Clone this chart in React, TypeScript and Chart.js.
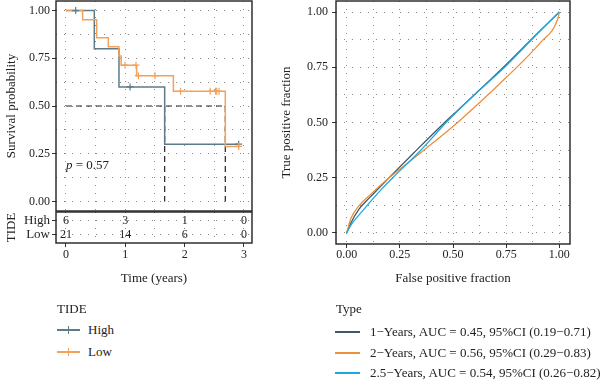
import React, { useEffect, useRef } from 'react';
import { Chart, registerables } from 'chart.js';

Chart.register(...registerables);

// ---------- Kaplan-Meier data ----------
const highTimes = [0, 0.477, 0.893, 1.663, 2.91];
const highSurv = [1, 0.8, 0.6, 0.3, 0.3];
const highCensorTimes = [0.163, 1.08, 2.91];
const highCensorSurv = [1, 0.6, 0.3];
const lowTimes = [0, 0.28, 0.517, 0.713, 0.89, 0.93, 1.19, 1.81, 2.685, 2.91];
const lowSurv = [1, 0.952, 0.857, 0.81, 0.762, 0.714, 0.659, 0.577, 0.288, 0.288];
const lowCensorTimes = [0.995, 1.18, 1.22, 1.5, 1.93, 2.43, 2.52, 2.54, 2.58, 2.91];
const lowCensorSurv = [0.714, 0.714, 0.659, 0.659, 0.577, 0.577, 0.577, 0.577, 0.577, 0.288];
const medianTimes = [1.663, 2.685];
const pValueLabel = '0.57';
const pValuePos = [0, 0.19];
const groups = ['High', 'Low'];
const riskTimes = [0, 1, 2, 3];
const riskHigh = [6, 3, 1, 0];
const riskLow = [21, 14, 6, 0];
const kmTimeTicks = [0, 0.5, 1, 1.5, 2, 2.5, 3];
const probTicks = [0, 0.125, 0.25, 0.375, 0.5, 0.625, 0.75, 0.875, 1];

// ---------- ROC data ----------
const roc1Fpr = [0, 0.02, 0.06, 0.108, 0.194, 0.313, 0.45, 0.5, 0.742, 0.893, 1];
const roc1Tpr = [0, 0.045, 0.11, 0.16, 0.245, 0.36, 0.49, 0.535, 0.755, 0.9, 1];
const roc2Fpr = [0, 0.02, 0.06, 0.108, 0.194, 0.357, 0.527, 0.746, 0.914, 0.992, 1];
const roc2Tpr = [0, 0.065, 0.125, 0.17, 0.245, 0.37, 0.505, 0.7, 0.865, 0.967, 1];
const roc3Fpr = [0, 0.02, 0.075, 0.161, 0.217, 0.344, 0.468, 0.6, 0.75, 0.9, 1];
const roc3Tpr = [0, 0.035, 0.1, 0.195, 0.25, 0.37, 0.5, 0.625, 0.757, 0.905, 1];
const rocLabels = [
  '1\u2212Years, AUC = 0.45, 95%CI (0.19\u22120.71)',
  '2\u2212Years, AUC = 0.56, 95%CI (0.29\u22120.83)',
  '2.5\u2212Years, AUC = 0.54, 95%CI (0.26\u22120.82)',
];

// ---------- styles ----------
const FONT = '"Liberation Serif", "Times New Roman", serif';
const TEXT = '#222';
const HIGH_C = '#5F7B89';
const LOW_C = '#F3A15B';
const ROC_C = ['#3E5867', '#EE8F3C', '#1FA7E0'];
const GRID_C = '#8a8a8a';

const pts = (xs: number[], ys: number[]) => xs.map((x, i) => ({ x, y: ys[i] }));
const isQuarter = (v: number) => Math.abs(v * 4 - Math.round(v * 4)) < 1e-6;
const isInt = (v: number) => Math.abs(v - Math.round(v)) < 1e-6;

const gridOpts = (majorFn: ((v: number) => boolean) | null, drawTicks: boolean) => ({
  color: GRID_C,
  lineWidth: 1,
  drawTicks,
  tickLength: 4,
  tickWidth: 1,
  tickBorderDash: [],
  tickColor: (c: any) => (majorFn && c.tick && majorFn(c.tick.value) ? '#333' : 'rgba(0,0,0,0)'),
});
const borderOpts = { display: false, dash: [1, 7] };

const fixW = (w: number) => (s: any) => {
  s.width = w;
  s.paddingTop = 0;
  s.paddingBottom = 0;
  s.paddingLeft = 0;
  s.paddingRight = 0;
};
const fixH = (h: number) => (s: any) => {
  s.height = h;
  s.paddingTop = 0;
  s.paddingBottom = 0;
  s.paddingLeft = 0;
  s.paddingRight = 0;
};

const framePlugin = {
  id: 'frame',
  afterDatasetsDraw(chart: any) {
    const { ctx, chartArea: a } = chart;
    ctx.save();
    ctx.strokeStyle = '#222';
    ctx.lineWidth = 1.4;
    ctx.strokeRect(a.left, a.top, a.right - a.left, a.bottom - a.top);
    ctx.restore();
  },
};

function ChartBox({ left, top, width, height, make }: any) {
  const ref = useRef<HTMLCanvasElement>(null);
  useEffect(() => {
    const chart = new Chart(ref.current as HTMLCanvasElement, make());
    return () => chart.destroy();
  }, []);
  return (
    <canvas
      ref={ref}
      width={width}
      height={height}
      style={{ position: 'absolute', left, top, width, height, display: 'block' }}
    />
  );
}

const lineDs = (data: any, color: string, width: number, extra: any = {}) => ({
  data,
  showLine: true,
  borderColor: color,
  backgroundColor: color,
  borderWidth: width,
  pointRadius: 0,
  fill: false,
  ...extra,
});

const censorDs = (data: any, color: string, order: number) => ({
  data,
  showLine: false,
  pointStyle: 'cross',
  pointRadius: 3.5,
  borderColor: color,
  backgroundColor: color,
  pointBorderWidth: 1.2,
  borderWidth: 1.2,
  order,
});

function makeKM() {
  const kmAnnot = {
    id: 'kmAnnot',
    afterDatasetsDraw(chart: any) {
      const { ctx, scales } = chart;
      const px = scales.x.getPixelForValue(pValuePos[0]);
      const py = scales.y.getPixelForValue(pValuePos[1]);
      ctx.save();
      ctx.fillStyle = TEXT;
      ctx.textBaseline = 'middle';
      ctx.textAlign = 'left';
      ctx.font = `italic 13px ${FONT}`;
      ctx.fillText('p', px, py);
      const w = ctx.measureText('p').width;
      ctx.font = `13px ${FONT}`;
      ctx.fillText(` = ${pValueLabel}`, px + w, py);
      ctx.restore();
    },
  };
  return {
    type: 'scatter',
    data: {
      datasets: [
        censorDs(pts(lowCensorTimes, lowCensorSurv), LOW_C, 0),
        censorDs(pts(highCensorTimes, highCensorSurv), HIGH_C, 1),
        lineDs(pts(lowTimes, lowSurv), LOW_C, 1.5, { stepped: true, order: 2 }),
        lineDs(pts(highTimes, highSurv), HIGH_C, 1.5, { stepped: true, order: 3 }),
        lineDs([{ x: 0, y: 0.5 }, { x: medianTimes[1], y: 0.5 }], '#222', 1.2, { borderDash: [6, 4], order: 4 }),
        lineDs([{ x: medianTimes[0], y: 0.5 }, { x: medianTimes[0], y: 0 }], '#222', 1.2, { borderDash: [6, 4], order: 5 }),
        lineDs([{ x: medianTimes[1], y: 0.5 }, { x: medianTimes[1], y: 0 }], '#222', 1.2, { borderDash: [6, 4], order: 6 }),
      ],
    },
    options: {
      responsive: false,
      animation: false,
      events: [],
      layout: { autoPadding: false, padding: { left: 0, right: 48, top: 1, bottom: 2 } },
      plugins: { legend: { display: false }, tooltip: { enabled: false } },
      scales: {
        x: {
          type: 'linear',
          min: -0.1685,
          max: 3.135,
          afterBuildTicks: (s: any) => { s.ticks = kmTimeTicks.map((v) => ({ value: v })); },
          afterFit: fixH(0),
          ticks: { display: false },
          grid: gridOpts(null, false),
          border: borderOpts,
        },
        y: {
          type: 'linear',
          min: -0.05,
          max: 1.05,
          afterBuildTicks: (s: any) => { s.ticks = probTicks.map((v) => ({ value: v })); },
          afterFit: fixW(56),
          ticks: {
            autoSkip: false,
            padding: 2,
            color: TEXT,
            font: { family: FONT, size: 12 },
            callback: (v: any) => (isQuarter(v) ? Number(v).toFixed(2) : ''),
          },
          grid: gridOpts(isQuarter, true),
          border: borderOpts,
          title: {
            display: true,
            text: 'Survival probability',
            color: TEXT,
            font: { family: FONT, size: 13 },
            padding: { top: 4.2, bottom: 0 },
          },
        },
      },
    },
    plugins: [kmAnnot, framePlugin],
  };
}

function makeRisk() {
  const riskText = {
    id: 'riskText',
    afterDatasetsDraw(chart: any) {
      const { ctx, scales } = chart;
      ctx.save();
      ctx.fillStyle = TEXT;
      ctx.textBaseline = 'middle';
      ctx.textAlign = 'center';
      ctx.font = `12px ${FONT}`;
      riskTimes.forEach((t, i) => {
        const px = scales.x.getPixelForValue(t);
        ctx.fillText(String(riskHigh[i]), px, scales.y.getPixelForValue(2));
        ctx.fillText(String(riskLow[i]), px, scales.y.getPixelForValue(1));
      });
      ctx.restore();
    },
  };
  return {
    type: 'scatter',
    data: { datasets: [{ data: [], showLine: false, pointRadius: 0 }] },
    options: {
      responsive: false,
      animation: false,
      events: [],
      layout: { autoPadding: false, padding: { left: 0, right: 48, top: 1, bottom: 0 } },
      plugins: { legend: { display: false }, tooltip: { enabled: false } },
      scales: {
        x: {
          type: 'linear',
          min: -0.1685,
          max: 3.135,
          afterBuildTicks: (s: any) => { s.ticks = kmTimeTicks.map((v) => ({ value: v })); },
          afterFit: fixH(47),
          ticks: {
            autoSkip: false,
            maxRotation: 0,
            padding: 1,
            color: TEXT,
            font: { family: FONT, size: 12 },
            callback: (v: any) => (isInt(v) ? String(Math.round(v)) : ''),
          },
          grid: gridOpts(isInt, true),
          border: borderOpts,
          title: {
            display: true,
            text: 'Time (years)',
            color: TEXT,
            font: { family: FONT, size: 13 },
            padding: { top: 0, bottom: 3.2 },
          },
        },
        y: {
          type: 'linear',
          min: 0.4,
          max: 2.6,
          afterBuildTicks: (s: any) => { s.ticks = [1, 2].map((v) => ({ value: v })); },
          afterFit: fixW(56),
          ticks: {
            autoSkip: false,
            padding: 2,
            color: TEXT,
            font: { family: FONT, size: 13 },
            callback: (v: any) => (v === 2 ? groups[0] : v === 1 ? groups[1] : ''),
          },
          grid: gridOpts(() => true, true),
          border: borderOpts,
          title: {
            display: true,
            text: 'TIDE',
            color: TEXT,
            font: { family: FONT, size: 13 },
            padding: { top: 4.2, bottom: 0 },
          },
        },
      },
    },
    plugins: [riskText, framePlugin],
  };
}

function makeROC() {
  return {
    type: 'scatter',
    data: {
      datasets: [
        lineDs(pts(roc3Fpr, roc3Tpr), ROC_C[2], 1.3, { cubicInterpolationMode: 'monotone', order: 0 }),
        lineDs(pts(roc2Fpr, roc2Tpr), ROC_C[1], 1.3, { cubicInterpolationMode: 'monotone', order: 1 }),
        lineDs(pts(roc1Fpr, roc1Tpr), ROC_C[0], 1.3, { cubicInterpolationMode: 'monotone', order: 2 }),
      ],
    },
    options: {
      responsive: false,
      animation: false,
      events: [],
      layout: { autoPadding: false, padding: { left: 0, right: 30, top: 1, bottom: 0 } },
      plugins: { legend: { display: false }, tooltip: { enabled: false } },
      scales: {
        x: {
          type: 'linear',
          min: -0.05,
          max: 1.05,
          afterBuildTicks: (s: any) => { s.ticks = probTicks.map((v) => ({ value: v })); },
          afterFit: fixH(46),
          ticks: {
            autoSkip: false,
            maxRotation: 0,
            padding: 0,
            color: TEXT,
            font: { family: FONT, size: 12 },
            callback: (v: any) => (isQuarter(v) ? Number(v).toFixed(2) : ''),
          },
          grid: gridOpts(isQuarter, true),
          border: borderOpts,
          title: {
            display: true,
            text: 'False positive fraction',
            color: TEXT,
            font: { family: FONT, size: 13 },
            padding: { top: 0, bottom: 3.2 },
          },
        },
        y: {
          type: 'linear',
          min: -0.05,
          max: 1.05,
          afterBuildTicks: (s: any) => { s.ticks = probTicks.map((v) => ({ value: v })); },
          afterFit: fixW(58),
          ticks: {
            autoSkip: false,
            padding: 4,
            color: TEXT,
            font: { family: FONT, size: 12 },
            callback: (v: any) => (isQuarter(v) ? Number(v).toFixed(2) : ''),
          },
          grid: gridOpts(isQuarter, true),
          border: borderOpts,
          title: {
            display: true,
            text: 'True positive fraction',
            color: TEXT,
            font: { family: FONT, size: 13 },
            padding: { top: 1.2, bottom: 0 },
          },
        },
      },
    },
    plugins: [framePlugin],
  };
}

const textStyle: any = {
  position: 'absolute',
  fontFamily: FONT,
  fontSize: 13,
  lineHeight: '14px',
  color: TEXT,
  whiteSpace: 'nowrap',
};

function LegendRow({ x, y, color, label, cross, lineW, textX }: any) {
  return (
    <>
      <div style={{ position: 'absolute', left: x, top: y - 0.6, width: lineW, height: 1.3, background: color }} />
      {cross && (
        <div style={{ position: 'absolute', left: x + lineW / 2 - 0.6, top: y - 4, width: 1.2, height: 8, background: color }} />
      )}
      <div style={{ ...textStyle, left: textX, top: y - 7 }}>{label}</div>
    </>
  );
}

export default function App() {
  return (
    <div style={{ position: 'absolute', left: 0, top: 0, width: 600, height: 383, background: '#fff', overflow: 'hidden' }}>
      <ChartBox left={0} top={0} width={300} height={213} make={makeKM} />
      <ChartBox left={0} top={211} width={300} height={79} make={makeRisk} />
      <ChartBox left={278} top={0} width={322} height={290} make={makeROC} />

      <div style={{ ...textStyle, left: 57, top: 302 }}>TIDE</div>
      <LegendRow x={57} y={330} color={HIGH_C} label={groups[0]} cross lineW={23} textX={88} />
      <LegendRow x={57} y={352} color={LOW_C} label={groups[1]} cross lineW={23} textX={88} />

      <div style={{ ...textStyle, left: 336, top: 302 }}>Type</div>
      <LegendRow x={335} y={332} color={ROC_C[0]} label={rocLabels[0]} lineW={25} textX={370} />
      <LegendRow x={335} y={353} color={ROC_C[1]} label={rocLabels[1]} lineW={25} textX={370} />
      <LegendRow x={335} y={373} color={ROC_C[2]} label={rocLabels[2]} lineW={25} textX={370} />
    </div>
  );
}
